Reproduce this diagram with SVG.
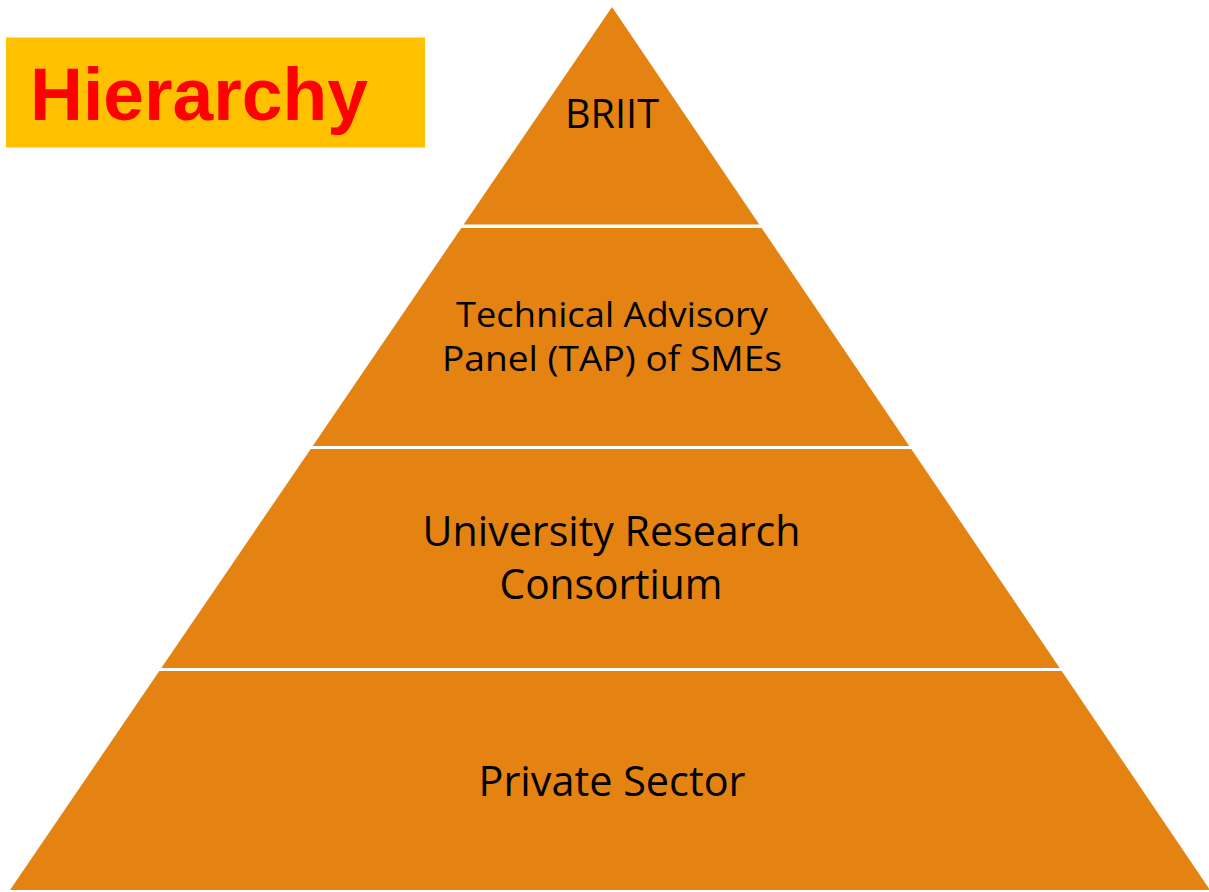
<svg xmlns="http://www.w3.org/2000/svg" width="1209" height="892" viewBox="0 0 1209 892">
<style>
.layer{fill:#E48312;}
.lbl{font-family:"Open Sans","Noto Sans","Liberation Sans",sans-serif;fill:#000000;text-anchor:middle;}
.title{font-family:"Liberation Sans",Arial,sans-serif;font-weight:bold;fill:#FF0000;}
</style>
<rect width="1209" height="892" fill="#FFFFFF"/>
<g id="title">
<rect x="6" y="37.5" width="419" height="110" fill="#FFC000"/>
<text class="title" x="30" y="120" font-size="75" textLength="338" lengthAdjust="spacingAndGlyphs">Hierarchy</text>
</g>
<g id="connectors"></g>
<g id="layer-briit">
<polygon class="layer" points="612,7 759.3,224.5 463.7,224.5"/>
<text class="lbl" x="612" y="128" font-size="40" textLength="94" lengthAdjust="spacingAndGlyphs">BRIIT</text>
</g>
<g id="layer-tap">
<polygon class="layer" points="461.3,228 761.7,228 909.3,446 312.7,446"/>
<text class="lbl" x="612" y="327" font-size="35" textLength="312" lengthAdjust="spacingAndGlyphs">Technical Advisory</text>
<text class="lbl" x="612" y="371" font-size="35" textLength="340" lengthAdjust="spacingAndGlyphs">Panel (TAP) of SMEs</text>
</g>
<g id="layer-university">
<polygon class="layer" points="310.7,449 911.3,449 1059.7,668 161.3,668"/>
<text class="lbl" x="611.5" y="546" font-size="42" textLength="378" lengthAdjust="spacingAndGlyphs">University Research</text>
<text class="lbl" x="611" y="599" font-size="42" textLength="223" lengthAdjust="spacingAndGlyphs">Consortium</text>
</g>
<g id="layer-private">
<polygon class="layer" points="159.3,671 1061.7,671 1210,890 10,890"/>
<text class="lbl" x="612" y="796" font-size="42" textLength="267" lengthAdjust="spacingAndGlyphs">Private Sector</text>
</g>
</svg>
